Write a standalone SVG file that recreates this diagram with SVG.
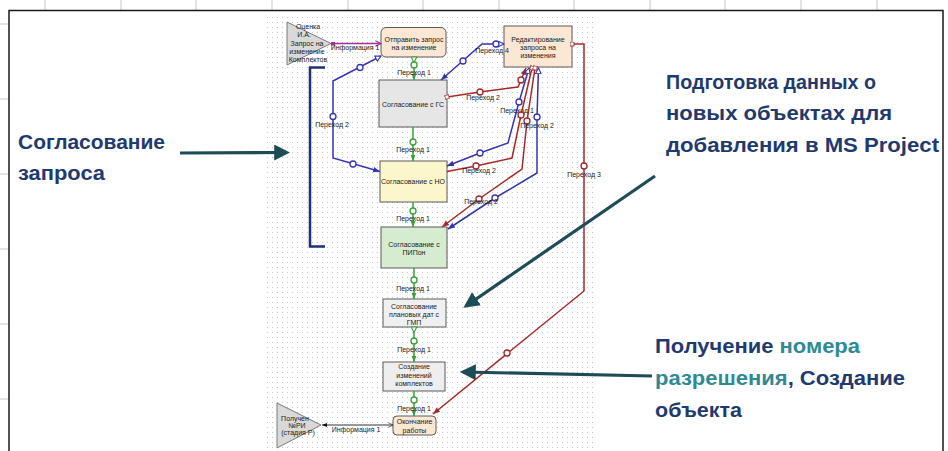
<svg xmlns="http://www.w3.org/2000/svg" width="948" height="451" viewBox="0 0 948 451">
<defs>
<pattern id="dots" x="0" y="0" width="5" height="5" patternUnits="userSpaceOnUse"><rect x="2" y="2" width="1" height="1" fill="#c4c4c4"/></pattern>
<marker id="ag" viewBox="0 0 10 10" refX="10" refY="5" markerWidth="6" markerHeight="6" orient="auto" markerUnits="userSpaceOnUse"><path d="M0,1 L10,5 L0,9z" fill="#38a038"/></marker>
<marker id="ab" viewBox="0 0 10 10" refX="10" refY="5" markerWidth="7" markerHeight="7" orient="auto" markerUnits="userSpaceOnUse"><path d="M0,1 L10,5 L0,9z" fill="#3434b0"/></marker>
<marker id="ar" viewBox="0 0 10 10" refX="10" refY="5" markerWidth="7" markerHeight="7" orient="auto" markerUnits="userSpaceOnUse"><path d="M0,1 L10,5 L0,9z" fill="#a52828"/></marker>
<marker id="ak" viewBox="0 0 10 10" refX="0" refY="5" markerWidth="5" markerHeight="5" orient="auto" markerUnits="userSpaceOnUse"><path d="M10,1 L0,5 L10,9z" fill="#111"/></marker>
<marker id="sg" viewBox="0 0 10 10" refX="1" refY="5" markerWidth="7" markerHeight="7" orient="auto" markerUnits="userSpaceOnUse"><path d="M1,1 L9,5 L1,9z" fill="#fff" stroke="#38a038" stroke-width="1.5"/></marker>
<marker id="sb" viewBox="0 0 10 10" refX="1" refY="5" markerWidth="7" markerHeight="7" orient="auto" markerUnits="userSpaceOnUse"><path d="M9,1 L1,5 L9,9z" fill="#fff" stroke="#3434b0" stroke-width="1.5"/></marker>
<marker id="sr" viewBox="0 0 10 10" refX="5" refY="5" markerWidth="5" markerHeight="5" orient="auto" markerUnits="userSpaceOnUse"><rect x="1" y="1" width="8" height="8" fill="#fff" stroke="#a52828" stroke-width="1.8"/></marker>
<marker id="sm" viewBox="0 0 10 10" refX="5" refY="5" markerWidth="4" markerHeight="4" orient="auto" markerUnits="userSpaceOnUse"><rect x="0" y="0" width="10" height="10" fill="#a0309a"/></marker>
<marker id="em" viewBox="0 0 10 10" refX="9" refY="5" markerWidth="7" markerHeight="7" orient="auto" markerUnits="userSpaceOnUse"><path d="M1,1 L9,5 L1,9" fill="none" stroke="#a0309a" stroke-width="1.5"/></marker>
<marker id="ek" viewBox="0 0 10 10" refX="9" refY="5" markerWidth="6" markerHeight="6" orient="auto" markerUnits="userSpaceOnUse"><path d="M1,1 L9,5 L1,9" fill="none" stroke="#333" stroke-width="1.2"/></marker>
<marker id="at" viewBox="0 0 10 10" refX="8" refY="5" markerWidth="5" markerHeight="5" orient="auto"><path d="M0,0 L10,5 L0,10z" fill="#1d4c57"/></marker>
</defs>
<style>
.grid{stroke:#c8c8c8;stroke-width:1}
.nt{font-family:"Liberation Sans",Arial,sans-serif;font-size:7px;fill:#1a1a1a;text-anchor:middle}
.lb{font-family:"Liberation Sans",Arial,sans-serif;font-size:7px;fill:#1a1a1a;text-anchor:middle}
.big{font-family:"Liberation Sans",Arial,sans-serif;font-size:21px;font-weight:bold;fill:#1f3a6e}
.teal{fill:#2e8a94}
.box{stroke:#5a5a5a;stroke-width:1}
.g{fill:none;stroke:#38a038;stroke-width:1.5}
.b{fill:none;stroke:#3434b0;stroke-width:1.5}
.r{fill:none;stroke:#a52828;stroke-width:1.5}
.cg{fill:#fff;stroke:#38a038;stroke-width:1.3}
.cb{fill:#fff;stroke:#3434b0;stroke-width:1.3}
.cr{fill:#fff;stroke:#a52828;stroke-width:1.3}
.arr{fill:none;stroke:#1d4c57;stroke-width:3.2}
</style>
<rect width="948" height="451" fill="#fff"/>
<g id="sheet-grid">
<path class="grid" d="M45,0V10 M121,0V10 M196,0V10 M272,0V10 M348,0V10 M423,0V10 M499,0V10 M574,0V10 M650,0V10 M725,0V10 M801,0V10 M877,0V10 M0,24H9 M0,99H9 M0,174H9 M0,249H9 M0,324H9 M0,399H9"/>
</g>
<rect x="9" y="10.5" width="934" height="460" fill="#fff" stroke="#1a1a1a" stroke-width="1.5"/>
<rect x="265" y="14" width="330" height="437" fill="url(#dots)"/>

<g id="n-ocenka">
<path d="M287,22 L331,43.5 L287,65z" fill="#d9d9d9" stroke="#7a7a7a"/>
<text class="nt" x="308" y="29">Оценка</text>
<text class="nt" x="304" y="37.3">И.А.</text>
<text class="nt" x="307" y="45.6">Запрос на</text>
<text class="nt" x="307" y="53.9">изменение</text>
<text class="nt" x="308" y="62.2">Комплектов</text>
</g>
<g id="n-otpravit">
<rect class="box" x="381" y="27.5" width="65" height="29.5" rx="5" fill="#fbe7d3"/>
<text class="nt" x="414" y="41.5">Отправить запрос</text>
<text class="nt" x="414" y="49.5">на изменение</text>
</g>
<g id="n-redakt">
<rect class="box" x="504" y="26" width="68" height="41" fill="#fbe7d3"/>
<text class="nt" x="538" y="42">Редактирование</text>
<text class="nt" x="538" y="50">запроса на</text>
<text class="nt" x="538" y="58">изменения</text>
</g>
<g id="n-gs">
<rect class="box" x="379" y="80" width="68" height="47" fill="#e6e6e6"/>
<text class="nt" x="413" y="107">Согласование с ГС</text>
</g>
<g id="n-no">
<rect class="box" x="380" y="161" width="67" height="41" fill="#fbf6cc"/>
<text class="nt" x="413" y="184">Согласование с НО</text>
</g>
<g id="n-pipon">
<rect class="box" x="381" y="227" width="66" height="41" fill="#d5ecd0"/>
<text class="nt" x="414" y="247">Согласование с</text>
<text class="nt" x="414" y="255">ПИПон</text>
</g>
<g id="n-planovyh">
<rect class="box" x="383" y="299" width="63" height="28" fill="#f0f0f0"/>
<text class="nt" x="414" y="309">Согласование</text>
<text class="nt" x="414" y="317">плановых дат с</text>
<text class="nt" x="414" y="325">ГМП</text>
</g>
<g id="n-sozdanie">
<rect class="box" x="383" y="362" width="62" height="29" fill="#eeeeee"/>
<text class="nt" x="414" y="369">Создание</text>
<text class="nt" x="414" y="377.5">изменений</text>
<text class="nt" x="414" y="386">комплектов</text>
</g>
<g id="n-okonchanie">
<rect class="box" x="393" y="416" width="43" height="19" rx="4" fill="#fbe7d3"/>
<text class="nt" x="414.5" y="424">Окончание</text>
<text class="nt" x="414.5" y="432.5">работы</text>
</g>
<g id="n-poluchen">
<path d="M277,403 L321,425 L277,448z" fill="#d9d9d9" stroke="#7a7a7a"/>
<text class="nt" x="295" y="421">Получен</text>
<text class="nt" x="297" y="427.5">№РИ</text>
<text class="nt" x="298" y="435">(стадия Р)</text>
</g>

<g id="connectors">
<path class="g" d="M414,57V80" marker-start="url(#sg)" marker-end="url(#ag)"/>
<circle class="cg" cx="414" cy="65" r="3"/>
<path class="g" d="M413,127V161" marker-end="url(#ag)"/>
<circle class="cg" cx="413" cy="142" r="3"/>
<path class="g" d="M413,202V227" marker-end="url(#ag)"/>
<circle class="cg" cx="413" cy="211" r="3"/>
<path class="g" d="M414,268V299" marker-end="url(#ag)"/>
<circle class="cg" cx="414" cy="280" r="3"/>
<path class="g" d="M414,327V362" marker-start="url(#sg)" marker-end="url(#ag)"/>
<circle class="cg" cx="414" cy="341" r="3"/>
<path class="g" d="M414,391V416" marker-end="url(#ag)"/>
<circle class="cg" cx="414" cy="400" r="3"/>
<text class="lb" x="414" y="75">Переход 1</text>
<text class="lb" x="413" y="151.5">Переход 1</text>
<text class="lb" x="413" y="220.5">Переход 1</text>
<text class="lb" x="413" y="290.5">Переход 1</text>
<text class="lb" x="414" y="351.5">Переход 1</text>
<text class="lb" x="414" y="410.5">Переход 1</text>
<path d="M333,43.5H381" fill="none" stroke="#a0309a" stroke-width="1.5" marker-start="url(#sm)" marker-end="url(#em)"/>
<text class="lb" x="355" y="50">Информация 1</text>
<path d="M322,425H393" fill="none" stroke="#333" stroke-width="1" marker-start="url(#ak)" marker-end="url(#ek)"/>
<text class="lb" x="356" y="431.5">Информация 1</text>
<path class="b" d="M381,56 L333,81 V158 L380,171.5" marker-start="url(#sb)" marker-end="url(#ab)"/>
<circle class="cb" cx="360" cy="67.5" r="3"/>
<circle class="cb" cx="333" cy="116.5" r="3"/>
<circle class="cb" cx="353" cy="164" r="3"/>
<text class="lb" x="332" y="126.5">Переход 2</text>
<path class="b" d="M504,44 H482 L441,80" marker-start="url(#sb)" marker-end="url(#ab)"/>
<circle class="cb" cx="496" cy="44" r="3"/>
<circle class="cb" cx="463" cy="61" r="3"/>
<text class="lb" x="492" y="52.5">Переход 4</text>
<path class="r" d="M447,97 L480,92 L518,87 L526,68" marker-start="url(#sr)" marker-end="url(#ar)"/>
<circle class="cr" cx="480" cy="92" r="3"/>
<circle class="cr" cx="521" cy="80" r="3"/>
<text class="lb" x="483" y="99.5">Переход 2</text>
<path class="r" d="M572,44 H584 V291 L433,414" marker-start="url(#sr)" marker-end="url(#ar)"/>
<circle class="cr" cx="584" cy="166" r="3"/>
<circle class="cr" cx="507" cy="353" r="3"/>
<text class="lb" x="584" y="176.5">Переход 3</text>
<path class="b" d="M529,68 L519,102 L508,143 L480,153 L447,166" marker-start="url(#sb)" marker-end="url(#ab)"/>
<circle class="cb" cx="519" cy="102" r="3"/>
<circle class="cb" cx="480" cy="153" r="3"/>
<text class="lb" x="517" y="112.5">Переход 1</text>
<path class="r" d="M532,68 L521,115 L512,158 L476,166 L447,171.5" marker-start="url(#sr)"/>
<circle class="cr" cx="521" cy="115" r="3"/>
<circle class="cr" cx="476" cy="166" r="3"/>
<text class="lb" x="479" y="172.5">Переход 2</text>
<path class="r" d="M535,68 L527,121 L522,169 L479,199 L442,227" marker-start="url(#sr)" marker-end="url(#ar)"/>
<circle class="cr" cx="527" cy="121" r="3"/>
<circle class="cr" cx="479" cy="199" r="3"/>
<path class="b" d="M538.5,68 L537,117 L537,173 L495,198 L448,229" marker-start="url(#sb)" marker-end="url(#ab)"/>
<circle class="cb" cx="537" cy="117" r="3"/>
<circle class="cb" cx="495" cy="198" r="3"/>
<text class="lb" x="537" y="127.5">Переход 2</text>
<text class="lb" x="481" y="204">Переход 2</text>
</g>

<g id="annotations">
<path d="M325,67.5 H310 V246.5 H325" fill="none" stroke="#1f2f78" stroke-width="2.5"/>
<path class="arr" d="M180,153 L287,152.5" marker-end="url(#at)"/>
<path class="arr" d="M655,176 L466,306" marker-end="url(#at)"/>
<path class="arr" d="M652,376 L463,372" marker-end="url(#at)"/>
<text class="big" x="18" y="149" textLength="147" lengthAdjust="spacingAndGlyphs">Согласование</text>
<text class="big" x="18" y="180" textLength="87" lengthAdjust="spacingAndGlyphs">запроса</text>
<text class="big" x="666" y="89" textLength="210" lengthAdjust="spacingAndGlyphs">Подготовка данных о</text>
<text class="big" x="666" y="120" textLength="226" lengthAdjust="spacingAndGlyphs">новых объектах для</text>
<text class="big" x="666" y="152" textLength="273" lengthAdjust="spacingAndGlyphs">добавления в MS Project</text>
<text class="big" x="655" y="353" textLength="205" lengthAdjust="spacingAndGlyphs">Получение <tspan class="teal">номера</tspan></text>
<text class="big" x="655" y="385" textLength="250" lengthAdjust="spacingAndGlyphs"><tspan class="teal">разрешения</tspan>, Создание</text>
<text class="big" x="655" y="417" textLength="87" lengthAdjust="spacingAndGlyphs">объекта</text>
</g>
</svg>
